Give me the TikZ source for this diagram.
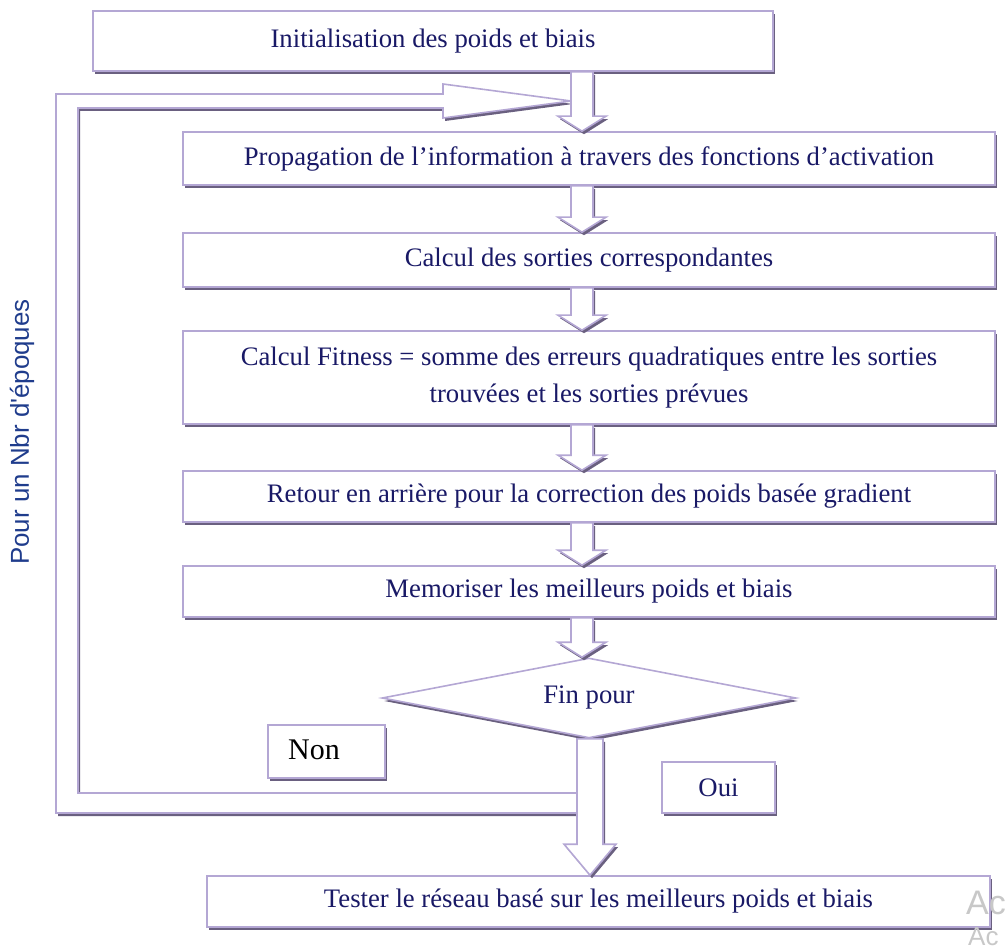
\documentclass[tikz,border=0pt]{standalone}
\usepackage{fontspec}
\setmainfont{Liberation Serif}
\newfontfamily\sansf{Liberation Sans}
\usetikzlibrary{calc,shadows,shapes.geometric}
\definecolor{bordc}{HTML}{B4A7D4}
\definecolor{shadc}{HTML}{6A6080}
\definecolor{txtc}{HTML}{191966}
\definecolor{bluet}{HTML}{1F3C8C}
\definecolor{wmark}{HTML}{C8C8C8}
\newcommand\vblock[5]{%
  \path[blockarrow] let \p1=(#1), \p2=(#2) in
    (\x2-#3,\y1) -- (\x2+#3,\y1) -- (\x2+#3,\y2+#5) -- (\x2+#4,\y2+#5) --
    (\x2,\y2) -- (\x2-#4,\y2+#5) -- (\x2-#3,\y2+#5) -- cycle;}
\begin{document}
\begin{tikzpicture}[x=1pt,y=-1pt,
  base/.style={draw=bordc, line width=1.6pt, fill=white,
    drop shadow={shadow xshift=2pt, shadow yshift=-3pt, fill=shadc, opacity=1}},
  box/.style={base, rectangle, inner sep=0pt, text=txtc,
    font=\fontsize{26.7}{37}\selectfont, align=center},
  blockarrow/.style={base, line join=miter},
]
\useasboundingbox (0,0) rectangle (1005,952);

% nodes
\node[box, minimum width=680pt, minimum height=60pt] (b1) at (433,41) {Initialisation des poids et biais};
\node[box, minimum width=812pt, minimum height=53pt] (b2) at (589,158.5) {Propagation de l’information à travers des fonctions d’activation};
\node[box, minimum width=812pt, minimum height=54pt] (b3) at (589,260) {Calcul des sorties correspondantes};
\node[box, minimum width=812pt, minimum height=93pt] (b4) at (589,377.5) {Calcul Fitness = somme des erreurs quadratiques entre les sorties\\trouvées et les sorties prévues};
\node[box, minimum width=812pt, minimum height=51pt] (b5) at (589,496.5) {Retour en arrière pour la correction des poids basée gradient};
\node[box, minimum width=812pt, minimum height=51pt] (b6) at (589,591.5) {Memoriser les meilleurs poids et biais};
\node[base, diamond, aspect=5.2, minimum width=414pt, minimum height=80pt, inner sep=0pt, text=txtc,
  font=\fontsize{26.7}{32}\selectfont] (d) at (589,698) {Fin pour};
\node[box, minimum width=783pt, minimum height=51pt] (b7) at (598.5,901.5) {Tester le réseau basé sur les meilleurs poids et biais};

\coordinate (ax) at (582,0);
\coordinate (ax2) at (590,0);
\coordinate (nonend) at (577,803);
\coordinate (looptip) at (571,101);

% loop connector (Non)
\path[blockarrow] let \p1=(nonend), \p2=(looptip) in
  (\x1,\y1+10pt) -- (\x1,\y1-10pt) -- (56pt,\y1-10pt) -- (56pt,\y2+7pt) --
  (\x2-128pt,\y2+7pt) -- (\x2-128pt,\y2+17pt) -- (\x2,\y2) --
  (\x2-128pt,\y2-17pt) -- (\x2-128pt,\y2-7pt) -- (78pt,\y2-7pt) --
  (78pt,\y1+10pt) -- cycle;

% down block arrows
\vblock{b1.south -| ax}{b2.north -| ax}{11pt}{24pt}{15pt}
\vblock{b2.south -| ax}{b3.north -| ax}{11pt}{24pt}{15pt}
\vblock{b3.south -| ax}{b4.north -| ax}{11pt}{24pt}{15pt}
\vblock{b4.south -| ax}{b5.north -| ax}{11pt}{24pt}{15pt}
\vblock{b5.south -| ax}{b6.north -| ax}{11pt}{24pt}{15pt}
\vblock{b6.south -| ax}{d.north -| ax}{11pt}{24pt}{15pt}
\vblock{d.south -| ax2}{b7.north -| ax2}{13pt}{26pt}{31pt}

% labels
\node[box, minimum width=117pt, minimum height=53pt] (non) at (326.5,751.5) {};
\node[text=black, font=\fontsize{30}{34}\selectfont, inner sep=0pt] (nontxt) at (314,750) {Non};
\node[box, minimum width=113pt, minimum height=51pt] (oui) at (718.5,787.5) {Oui};

\node[rotate=90, text=bluet, font=\sansf\fontsize{25.9}{30}\selectfont] (lbl) at (22,432) {Pour un Nbr d\textquotesingle époques};

% watermark fragments
\begin{scope}
\clip (0,0) rectangle (1005,952);
\node[anchor=west, text=wmark, font=\sansf\fontsize{34}{40}\selectfont, inner sep=0pt] (wm1) at (966,903) {Ac};
\node[anchor=west, text=wmark, font=\sansf\fontsize{26}{30}\selectfont, inner sep=0pt] (wm2) at (968,937) {Ac};
\end{scope}
\end{tikzpicture}
\end{document}
